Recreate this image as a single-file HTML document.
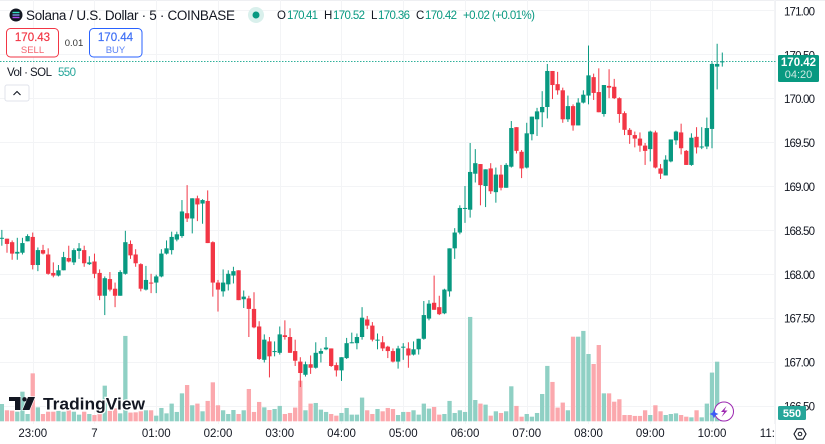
<!DOCTYPE html>
<html lang="en">
<head>
<meta charset="utf-8">
<title>Solana / U.S. Dollar 5m candlestick chart</title>
<style>
html,body{margin:0;padding:0;background:#fff;width:825px;height:444px;overflow:hidden}
svg{display:block;font-family:"Liberation Sans",sans-serif}
</style>
</head>
<body>
<svg id="chart" xmlns="http://www.w3.org/2000/svg" width="825" height="444" viewBox="0 0 825 444">
  <defs><clipPath id="pane-clip"><rect x="0" y="0" width="775" height="424"/></clipPath>
  <clipPath id="time-clip"><rect x="0" y="424" width="775" height="20"/></clipPath></defs>
  <rect x="0" y="0" width="825" height="444" fill="#ffffff"/>
  <rect x="0" y="0" width="825" height="1" fill="#eeeff2"/>
  <g id="grid"></g>
  <rect x="775" y="0" width="1" height="444" fill="#f0f1f4"/>
  <g id="price-axis"></g>
  <g id="time-axis" clip-path="url(#time-clip)"></g>
  <g id="volumes" clip-path="url(#pane-clip)"></g>
  <g id="candles" clip-path="url(#pane-clip)"></g>
  <line id="last-price-line" x1="0" x2="776" stroke="#2fb09a" stroke-width="1" stroke-dasharray="1.5 1.5"/>

  <g>
    <circle cx="16" cy="15" r="6.5" fill="#131722"/>
    <rect x="12.5" y="11.8" width="7" height="1.4" fill="#35e0c0"/>
    <rect x="12.5" y="14.3" width="7" height="1.4" fill="#7a9be8"/>
    <rect x="12.5" y="16.8" width="7" height="1.4" fill="#b04cf0"/>
    <text x="26" y="20" font-size="13.5" fill="#131722" textLength="209" lengthAdjust="spacing">Solana / U.S. Dollar · 5 · COINBASE</text>
    <circle cx="256" cy="15" r="8" fill="#d9f0ec"/>
    <circle cx="256" cy="15" r="3.5" fill="#089981"/>
    <text x="277" y="19" font-size="11.5" fill="#131722">O</text>
    <text x="287" y="19" font-size="11.5" fill="#089981" textLength="31">170.41</text>
    <text x="324" y="19" font-size="11.5" fill="#131722">H</text>
    <text x="333" y="19" font-size="11.5" fill="#089981" textLength="32">170.52</text>
    <text x="371" y="19" font-size="11.5" fill="#131722">L</text>
    <text x="378" y="19" font-size="11.5" fill="#089981" textLength="32">170.36</text>
    <text x="416" y="19" font-size="11.5" fill="#131722">C</text>
    <text x="425" y="19" font-size="11.5" fill="#089981" textLength="32">170.42</text>
    <text x="463" y="19" font-size="11.5" fill="#089981" textLength="72">+0.02 (+0.01%)</text>
  </g>

  <g>
    <rect x="6.5" y="28.5" width="52" height="28.5" rx="4" fill="#fff" stroke="#f23645"/>
    <text x="32.5" y="41" font-size="11.5" fill="#f23645" stroke="#f23645" stroke-width="0.2" text-anchor="middle">170.43</text>
    <text x="32.5" y="53" font-size="9.5" fill="#f4636f" text-anchor="middle">SELL</text>
  </g>
  <text x="74" y="46" font-size="9.5" fill="#333" text-anchor="middle">0.01</text>
  <g>
    <rect x="89.5" y="28.5" width="52.5" height="28.5" rx="4" fill="#fff" stroke="#2962ff"/>
    <text x="115.5" y="41" font-size="11.5" fill="#3e6ff5" stroke="#3e6ff5" stroke-width="0.2" text-anchor="middle">170.44</text>
    <text x="115.5" y="53" font-size="9.5" fill="#5b83f5" text-anchor="middle">BUY</text>
  </g>

  <text x="7" y="76" font-size="11.5" fill="#131722" textLength="45">Vol · SOL</text>
  <text x="58" y="76" font-size="11.5" fill="#26a69a" textLength="18">550</text>
  <g>
    <rect x="5" y="85" width="24" height="16" rx="2" fill="#fff" stroke="#e0e3eb"/>
    <path d="M13.5 95 L17 91.5 L20.5 95" fill="none" stroke="#131722" stroke-width="1.1"/>
  </g>

  <g id="tv-logo">
    <path d="M9 397 H20.5 V410 H15 V401 H9 Z M28 397 H35 L29.5 410 H22.5 Z" fill="#131722" stroke="#fff" stroke-width="1.2" paint-order="stroke"/>
    <circle cx="24.5" cy="399.3" r="2.2" fill="#131722"/>
    <text x="43" y="409.5" font-size="17" font-weight="bold" fill="#131722" stroke="#fff" stroke-width="2.5" paint-order="stroke" textLength="102" lengthAdjust="spacingAndGlyphs">TradingView</text>
  </g>

  <g id="last-price-tag">
    <rect id="last-price-box" x="778" y="55" width="41" height="27" rx="1.5" fill="#089981"/>
    <text id="last-price-text" x="798.5" y="66" font-size="11.5" font-weight="bold" fill="#ffffff" text-anchor="middle"></text>
    <text x="798.5" y="78" font-size="11" fill="#cdeae4" text-anchor="middle">04:20</text>
  </g>
  <g>
    <rect x="778" y="406" width="28" height="14" rx="1.5" fill="#26a69a"/>
    <text id="volume-tag-text" x="792" y="417" font-size="11" font-weight="bold" fill="#fff" text-anchor="middle"></text>
  </g>

  <g>
    <circle cx="724" cy="411.5" r="9.5" fill="#fff" stroke="#9c27b0" stroke-width="1"/>
    <path d="M726.5 406 L721 412 H724.2 L721.5 417 L727.5 410.5 H724.3 Z" fill="#9c27b0"/>
    <path d="M714 409.5 L715.5 412.8 L718.5 414 L715.5 415.2 L714 418.5 L712.5 415.2 L709.5 414 L712.5 412.8 Z" fill="#3b5cf6"/>
  </g>
  <g>
    <path d="M794 434 L797 428.8 H803 L806 434 L803 439.2 H797 Z" fill="none" stroke="#131722" stroke-width="1.1"/>
    <circle cx="800" cy="434" r="1.8" fill="none" stroke="#131722" stroke-width="1"/>
  </g>
</svg>
<script>
const opens = [168.40,168.40,168.36,168.23,168.24,168.37,168.42,168.10,168.27,168.22,168.01,167.98,168.04,168.18,168.13,168.26,168.27,168.11,168.14,168.01,167.75,167.94,167.83,167.75,168.00,168.34,168.22,168.11,167.82,167.90,167.90,167.97,168.23,168.27,168.39,168.43,168.69,168.63,168.86,168.80,168.83,168.36,167.90,167.80,167.88,167.98,168.04,167.71,167.72,167.60,167.40,167.02,167.23,167.11,167.10,167.30,167.28,167.12,167.00,166.85,166.97,166.93,167.09,167.14,167.15,166.96,166.90,167.04,167.21,167.21,167.28,167.48,167.41,167.24,167.22,167.17,167.12,167.00,167.16,167.15,167.08,167.14,167.26,167.49,167.67,167.62,167.55,167.80,168.29,168.47,168.74,168.73,169.14,169.25,169.00,169.20,168.93,169.13,168.98,169.22,169.67,169.39,169.21,169.59,169.76,169.84,169.90,170.31,170.16,170.09,169.76,169.91,169.69,169.95,170.03,170.24,170.07,169.82,170.14,170.13,170.00,169.83,169.64,169.58,169.54,169.46,169.42,169.61,169.20,169.12,169.28,169.52,169.61,169.40,169.24,169.56,169.44,169.45,169.65,170.36,170.41];
const highs = [168.50,168.40,168.38,168.41,168.41,168.45,168.47,168.30,168.33,168.29,168.13,168.10,168.25,168.32,168.29,168.35,168.32,168.20,168.23,168.05,167.97,168.02,167.90,168.04,168.49,168.38,168.28,168.12,168.09,168.00,167.99,168.28,168.38,168.48,168.48,168.84,169.01,168.86,168.89,168.85,168.95,168.37,167.93,168.05,168.04,168.08,168.04,167.81,167.75,167.79,167.46,167.31,167.28,167.23,167.40,167.47,167.38,167.25,167.05,167.00,167.07,167.22,167.15,167.28,167.15,166.99,167.05,167.27,167.33,167.32,167.62,167.52,167.45,167.32,167.29,167.18,167.15,167.18,167.21,167.22,167.23,167.26,167.69,167.70,167.98,167.75,167.83,168.29,168.52,168.78,169.00,169.49,169.42,169.25,169.19,169.26,169.21,169.24,169.26,169.74,169.67,169.41,169.72,169.79,169.89,170.08,170.39,170.31,170.30,170.12,170.03,169.93,170.00,170.09,170.60,170.28,170.34,170.15,170.33,170.22,170.01,169.85,169.66,169.62,169.61,169.49,169.63,169.63,169.25,169.35,169.53,169.63,169.71,169.41,169.60,169.67,169.67,169.78,170.41,170.62,170.52];
const lows = [168.32,168.24,168.16,168.16,168.22,168.37,168.05,168.03,168.22,167.99,167.96,167.97,168.04,168.13,168.10,168.17,168.08,168.10,167.95,167.70,167.53,167.80,167.62,167.75,167.99,168.17,168.08,167.80,167.81,167.78,167.78,167.96,168.22,168.22,168.37,168.41,168.59,168.46,168.60,168.57,168.35,167.74,167.57,167.74,167.81,167.89,167.70,167.61,167.28,167.38,167.02,166.99,166.82,167.06,167.08,167.25,167.10,166.95,166.71,166.83,166.86,166.92,166.99,167.13,166.94,166.83,166.78,167.03,167.21,167.14,167.25,167.37,167.23,167.14,167.12,167.04,166.99,166.92,167.02,166.93,167.07,167.08,167.25,167.47,167.59,167.53,167.54,167.74,168.17,168.45,168.58,168.64,169.04,168.78,168.76,168.91,168.81,168.95,168.98,169.21,169.37,169.09,169.20,169.52,169.57,169.67,169.77,169.99,170.04,169.72,169.73,169.63,169.69,169.94,169.93,169.98,169.84,169.79,170.00,169.99,169.72,169.58,169.48,169.44,169.39,169.24,169.28,169.20,169.08,169.12,169.27,169.47,169.36,169.24,169.23,169.37,169.42,169.42,169.43,170.10,170.36];
const closes = [168.41,168.34,168.23,168.25,168.35,168.43,168.10,168.27,168.23,168.00,167.98,168.04,168.19,168.14,168.27,168.29,168.12,168.13,168.00,167.75,167.95,167.82,167.75,168.02,168.36,168.21,168.12,167.83,167.93,167.89,167.97,168.23,168.29,168.42,168.45,168.71,168.63,168.86,168.79,168.84,168.35,167.90,167.82,167.90,168.00,168.03,167.70,167.74,167.60,167.39,167.03,167.25,167.06,167.12,167.31,167.28,167.10,167.01,166.87,166.97,166.93,167.10,167.12,167.16,166.95,166.90,167.05,167.21,167.22,167.28,167.50,167.41,167.25,167.25,167.15,167.12,167.00,167.15,167.17,167.07,167.14,167.26,167.53,167.66,167.59,167.54,167.82,168.29,168.47,168.75,168.75,169.16,169.26,169.01,169.19,168.94,169.13,168.98,169.24,169.66,169.40,169.20,169.60,169.79,169.85,169.90,170.31,170.15,170.09,169.76,169.91,169.69,169.95,170.04,170.26,170.06,169.84,170.15,170.12,170.00,169.82,169.64,169.58,169.54,169.46,169.40,169.62,169.21,169.14,169.30,169.53,169.62,169.43,169.24,169.55,169.44,169.45,169.66,170.39,170.39,170.42];
const volumes = [1350,860,830,750,2310,570,3740,1090,570,750,750,810,750,860,750,520,750,570,490,570,2780,810,1010,620,6660,680,700,780,860,860,440,1040,620,1380,730,2180,2830,1250,1380,780,1590,3040,1250,860,570,880,570,860,2520,730,1510,1090,880,960,1200,570,650,1070,3170,860,1380,1430,910,730,570,440,650,1040,520,520,1850,860,570,960,780,1040,960,490,730,730,860,520,1380,990,1120,520,570,1590,650,860,730,8140,1660,1380,1300,440,780,650,780,2730,1200,360,570,360,650,2130,4320,3070,1070,1460,860,6600,6600,7050,5250,4470,5950,2180,2180,1530,1720,490,490,420,420,860,490,1250,780,490,570,620,490,360,310,860,310,1380,3800,4650,550];
const priceTicks = [171,170.5,170,169.5,169,168.5,168,167.5,167,166.5];
const timeLabels = ["23:00","7","01:00","02:00","03:00","04:00","05:00","06:00","07:00","08:00","09:00","10:00","11:00"];
const firstLabelIndex = 6;
const candlesPerLabel = 12;

const NS = "http://www.w3.org/2000/svg";
const UP = "#089981", DOWN = "#f23645";
const UP_VOL = "#8fd0c4", DOWN_VOL = "#fba8ad";
const GRID = "#f3f4f6";

function xAxis(i){ return 712 + (i - 138) * 5.146; }
function yAxis(p){ return 186 + (169 - p) * 87.8; }
function volHeight(v){ return v / 78; }
const VOL_BASE = 421.3;

function make(tag, parent, attrs){
  const el = document.createElementNS(NS, tag);
  for (const k in attrs) el.setAttribute(k, attrs[k]);
  parent.appendChild(el);
  return el;
}

const gridG = document.getElementById("grid");
const priceG = document.getElementById("price-axis");
const timeG = document.getElementById("time-axis");
const volG = document.getElementById("volumes");
const candleG = document.getElementById("candles");

priceTicks.forEach(function(t){
  const y = Math.round(yAxis(t)) + 0.5;
  const line = make("line", gridG, {x1:0, x2:775, y1:y, y2:y, stroke:GRID, "stroke-width":1});
  
  
  const label = make("text", priceG, {x:815, y:yAxis(t) + 5, "font-size":11.5, fill:"#131722", "text-anchor":"end", textLength:31});
  
  
  label.textContent = t.toFixed(2);
});

timeLabels.forEach(function(t, n){
  const x = xAxis(firstLabelIndex + n * candlesPerLabel);
  const gx = Math.round(x) + 0.5;
  const line = make("line", gridG, {x1:gx, x2:gx, y1:0, y2:424, stroke:GRID, "stroke-width":1});
  
  
  const label = make("text", timeG, {x:x, y:437, "font-size":11.5, fill:"#131722", "text-anchor":"middle"});
  
  
  label.textContent = t;
});

volumes.forEach(function(v, i){
  const h = volHeight(v);
  const bar = make("rect", volG, {x:xAxis(i) - 2.15, y:VOL_BASE - h, width:4.3, height:h, fill: closes[i] >= opens[i] ? UP_VOL : DOWN_VOL});
  
  
});

opens.forEach(function(o, i){
  const c = closes[i];
  const col = c >= o ? UP : DOWN;
  const x = xAxis(i);
  const wick = make("line", candleG, {x1:x, x2:x, y1:yAxis(highs[i]), y2:yAxis(lows[i]), stroke:col, "stroke-width":1});
  
  
  const top = yAxis(Math.max(o, c));
  const h = Math.max(yAxis(Math.min(o, c)) - top, 1);
  const body = make("rect", candleG, {x:x - 2.15, y:top, width:4.3, height:h, fill:col});
  
  
});

const lastClose = closes[closes.length - 1];
const lastY = Math.round(yAxis(lastClose)) + 0.5;
const lastLine = document.getElementById("last-price-line");
lastLine.setAttribute("y1", lastY);
lastLine.setAttribute("y2", lastY);
document.getElementById("last-price-text").textContent = lastClose.toFixed(2);
document.getElementById("volume-tag-text").textContent = String(volumes[volumes.length - 1]);
</script>
</body>
</html>
